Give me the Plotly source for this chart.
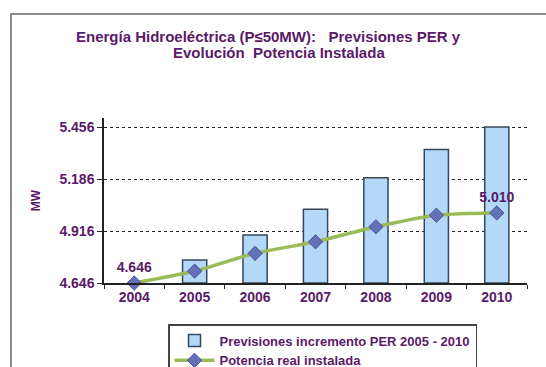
import plotly.graph_objects as go

years = ["2004", "2005", "2006", "2007", "2008", "2009", "2010"]
prevision = [None, 4.765, 4.895, 5.029, 5.193, 5.340, 5.456]
potencia = [4.646, 4.708, 4.800, 4.860, 4.938, 4.998, 5.010]
y_ticks = [4.646, 4.916, 5.186, 5.456]
y_tick_text = ["4.646", "4.916", "5.186", "5.456"]
title_lines = ["Energía Hidroeléctrica (P≤50MW):   Previsiones PER y",
               "Evolución  Potencia Instalada"]
base_value = 4.646

PURPLE = "#5A1A6A"
FONT = "Liberation Sans"

fig = go.Figure()

fig.add_trace(go.Bar(
    x=years,
    y=[None if v is None else v - base_value for v in prevision],
    base=base_value,
    width=0.4,
    marker=dict(color="#B4D8F8", line=dict(color="#34475A", width=1.5)),
    name="Previsiones incremento PER 2005 - 2010",
))

labels = ["4.646", "", "", "", "", "", "5.010"]
fig.add_trace(go.Scatter(
    x=years,
    y=potencia,
    mode="lines+markers+text",
    line=dict(color="#9BBB59", width=3.5, shape="spline", smoothing=0.8),
    marker=dict(symbol="diamond", size=11, color="#6470B8",
                line=dict(color="#4A5599", width=1)),
    text=labels,
    textposition="top center",
    textfont=dict(family=FONT, size=14, color=PURPLE, weight="bold"),
    name="Potencia real instalada",
    cliponaxis=False,
))

PLOT_H = 165
for line_text, x_px, y_px in [(title_lines[0], 268, 37), (title_lines[1], 279, 52)]:
    fig.add_annotation(
        text=line_text, showarrow=False,
        xref="paper", yref="paper",
        x=(x_px - 104) / 423, y=(283 - y_px) / PLOT_H,
        xanchor="center", yanchor="middle",
        font=dict(family=FONT, size=15, color=PURPLE, weight="bold"),
    )

fig.update_layout(
    width=546, height=367,
    margin=dict(l=104, r=19, t=118, b=84, autoexpand=False),
    paper_bgcolor="white",
    plot_bgcolor="white",
    showlegend=True,
    legend=dict(
        x=(168 - 104) / 423, xref="paper", y=-(324 - 283) / PLOT_H, yanchor="top", xanchor="left",
        bordercolor="#444444", borderwidth=1.5,
        font=dict(family=FONT, size=13, color=PURPLE, weight="bold"),
        tracegroupgap=0, itemwidth=40,
        bgcolor="white",
    ),
)

fig.update_xaxes(
    type="category",
    showline=True, linecolor="#222222", linewidth=1.5,
    ticks="outside", tickcolor="#222222", ticklen=4,
    tickson="boundaries",
    tickfont=dict(family=FONT, size=14, color=PURPLE, weight="bold"),
    showgrid=False,
    range=[-0.5, 6.5],
)
fig.update_yaxes(
    range=[base_value, 5.503],
    tickvals=y_ticks, ticktext=y_tick_text,
    showline=True, linecolor="#222222", linewidth=1.5,
    ticks="outside", tickcolor="#222222", ticklen=5,
    tickfont=dict(family=FONT, size=14, color=PURPLE, weight="bold"),
    showgrid=True, gridcolor="#222222", griddash="dot", gridwidth=1,
    zeroline=False,
    title=dict(text="MW", font=dict(family=FONT, size=12, color=PURPLE, weight="bold"), standoff=16),
)

fig.add_shape(type="rect", xref="paper", yref="paper",
              x0=(11 - 104) / 423, x1=1.2, y0=-1.0, y1=1 + (118 - 14) / PLOT_H,
              line=dict(color="#666666", width=1.5), fillcolor="rgba(0,0,0,0)",
              layer="below")

fig.write_html("out.html", config={"displayModeBar": False},
               post_script="document.body.style.margin='0px';")
